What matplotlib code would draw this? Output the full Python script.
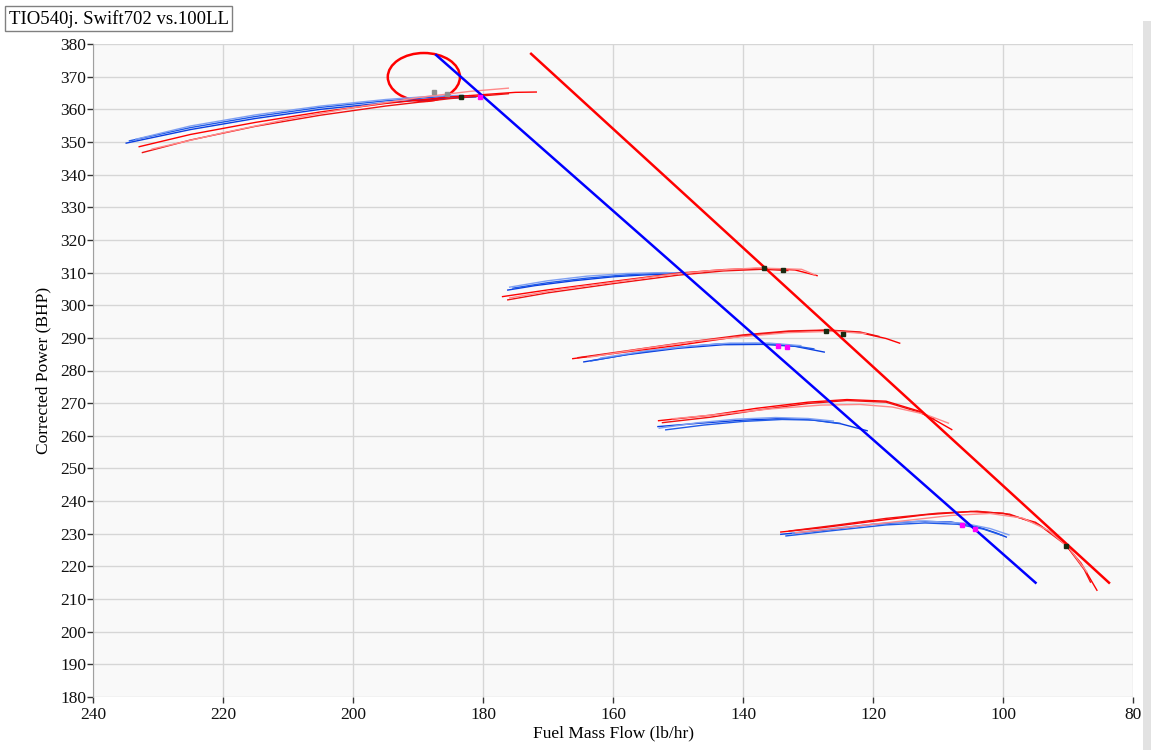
import matplotlib
matplotlib.use("Agg")
import matplotlib.pyplot as plt
from matplotlib.patches import Ellipse, Rectangle

plt.rcParams['font.family'] = ['Liberation Serif', 'DejaVu Serif']

title = "TIO540j. Swift702 vs.100LL"
x_label = "Fuel Mass Flow (lb/hr)"
y_label = "Corrected Power (BHP)"
x_ticks = [240, 220, 200, 180, 160, 140, 120, 100, 80]
y_ticks = list(range(180, 381, 10))

# ---- 100LL (red) curves: (fuel flow, power) ----
red_curves = [
    # cluster 1
    [(233, 348.5), (225, 352.3), (215, 356.0), (205, 359.2), (195, 361.8), (185, 363.8), (175, 365.2), (171.7, 365.3)],
    [(232.5, 346.7), (225, 350.6), (215, 354.8), (205, 358.2), (195, 361.0), (185, 363.3), (176, 364.8)],
    [(231, 347.8), (220, 352.8), (210, 357.0), (200, 360.5), (190, 363.6), (182, 365.5), (176, 366.5)],
    # cluster 2
    [(177.1, 302.6), (170, 304.7), (160, 307.3), (150, 309.8), (143, 310.9), (137, 311.3), (132, 310.8), (128.5, 309.0)],
    [(176.3, 301.6), (170, 303.8), (160, 306.6), (150, 309.2), (143, 310.5), (137, 311.0), (133, 310.6)],
    [(176, 302.2), (168, 304.9), (160, 307.0), (152, 309.2), (145, 310.6), (138, 311.4), (131, 311.0), (128.8, 309.2)],
    # cluster 3
    [(166.3, 283.6), (160, 285.2), (150, 287.7), (140, 290.6), (133, 291.9), (127, 292.3), (122, 291.6), (118, 289.8), (115.8, 288.3)],
    [(165.5, 283.9), (158, 286.0), (150, 288.3), (140, 290.9), (133, 292.1), (127, 292.4), (122, 291.8), (119, 290.4)],
    [(164, 284.0), (155, 286.8), (147, 289.0), (140, 290.4), (133, 291.6), (126, 292.0), (121, 291.3)],
    # cluster 4
    [(153.1, 264.6), (145, 266.3), (138, 268.4), (130, 270.3), (124, 271.1), (118, 270.6), (113, 267.6), (110, 264.3), (107.8, 261.8)],
    [(152.5, 264.0), (145, 265.7), (138, 267.8), (130, 269.9), (124, 270.8), (118, 270.3), (113, 267.3), (110.5, 265.0)],
    [(151, 265.2), (144, 266.5), (136, 268.2), (128, 269.4), (122, 269.6), (117, 268.8), (112, 266.6), (108.3, 263.8)],
    # cluster 5
    [(134.3, 230.5), (128, 231.8), (120, 233.8), (112, 235.8), (105, 236.8), (100, 236.3), (95, 233.5), (91, 228.0), (88, 221.0), (85.5, 212.5)],
    [(133, 230.8), (125, 232.8), (118, 234.7), (110, 236.3), (104, 236.9), (99, 236.0), (94.5, 232.8), (90.3, 226.5), (87.5, 219.0), (86.5, 215.0)],
    [(132, 230.3), (124, 232.0), (116, 233.8), (108, 235.6), (102, 236.2), (97, 234.8), (93, 231.0), (90, 226.0), (87, 218.0)],
]

# ---- Swift702 (blue) curves ----
blue_curves = [
    # cluster 1
    [(235, 349.6), (225, 353.8), (215, 357.2), (205, 360.0), (195, 362.0), (187, 363.3), (181, 363.8)],
    [(234.5, 350.3), (225, 354.4), (215, 357.8), (205, 360.6), (195, 362.6), (187, 363.8), (182, 364.2)],
    [(233.5, 350.8), (225, 354.9), (215, 358.3), (205, 361.0), (195, 363.0), (188, 364.0), (183, 364.3)],
    # cluster 2
    [(176.3, 304.6), (172, 306.0), (166, 307.5), (160, 308.7), (155, 309.3), (150, 309.6)],
    [(175.5, 305.2), (170, 306.9), (164, 308.3), (158, 309.3), (152, 309.9), (148.5, 310.0)],
    [(176, 305.5), (170, 307.5), (164, 308.9), (158, 309.7), (152, 310.0), (149, 309.8)],
    # cluster 3
    [(164.6, 282.6), (158, 284.8), (150, 286.8), (143, 287.9), (137, 288.0), (132, 287.4), (127.4, 285.6)],
    [(163.5, 282.9), (157, 285.2), (150, 287.1), (144, 288.1), (138, 288.3), (133, 287.8), (129, 286.6)],
    [(162, 283.8), (155, 286.0), (148, 287.5), (142, 288.4), (136, 288.4), (131, 287.6)],
    # cluster 4
    [(153.2, 262.8), (147, 263.8), (140, 264.8), (134, 265.3), (130, 265.0), (125, 263.7), (120.8, 261.5)],
    [(152, 261.8), (146, 263.3), (140, 264.4), (134, 265.0), (129, 264.8), (125, 263.8)],
    [(153, 262.3), (147, 264.0), (141, 265.1), (135, 265.6), (130, 265.3), (126, 264.5)],
    # cluster 5
    [(134.3, 229.8), (128, 231.0), (120, 232.9), (113, 233.8), (108, 233.6), (104, 232.2), (101, 230.2), (99.4, 228.9)],
    [(133.5, 229.3), (126, 231.0), (118, 232.7), (112, 233.3), (107, 232.9), (103, 231.4), (100, 229.4)],
    [(132.5, 230.2), (125, 231.9), (118, 233.3), (112, 233.9), (106, 233.2), (102, 231.6), (99, 229.6)],
]

red_shades = ['#ff0000', '#f01010', '#ff8a8a']
blue_shades = ['#0a3ee0', '#1f5ae8', '#7fa0f2']

# straight guide lines
blue_line_x = [187.2, 95.0]
blue_line_y = [376.6, 215.0]
red_line_x = [172.6, 83.7]
red_line_y = [377.0, 215.0]

# markers
magenta_x = [180.5, 134.6, 133.2, 106.3, 104.3]
magenta_y = [363.7, 287.4, 287.1, 232.8, 231.6]
dark_x = [183.4, 136.8, 133.8, 127.2, 124.6, 90.3]
dark_y = [363.7, 311.3, 310.7, 292.0, 291.3, 226.3]
gray_x = [187.5, 185.5]
gray_y = [365.3, 364.7]

# circle highlight
circle_center = (189.1, 369.9)
circle_w, circle_h = 11.1, 14.7

fig = plt.figure(figsize=(11.51, 7.5), dpi=100)
fig.patch.set_facecolor('white')
ax = fig.add_axes([0.0808, 0.0707, 0.9036, 0.8706])
ax.set_facecolor('#f9f9f9')

ax.set_xlim(240, 80)
ax.set_ylim(180, 380)
ax.set_xticks(x_ticks)
ax.set_yticks(y_ticks)
ax.grid(True, color='#d6d6d6', lw=1)
ax.set_axisbelow(True)

for i, c in enumerate(blue_curves):
    xs = [p[0] for p in c]
    ys = [p[1] for p in c]
    ax.plot(xs, ys, color=blue_shades[i % 3], lw=1.0, solid_capstyle='butt')
for i, c in enumerate(red_curves):
    xs = [p[0] for p in c]
    ys = [p[1] for p in c]
    ax.plot(xs, ys, color=red_shades[i % 3], lw=1.0, solid_capstyle='butt')

ax.plot(blue_line_x, blue_line_y, color='#0000ff', lw=1.8)
ax.plot(red_line_x, red_line_y, color='#ff0000', lw=1.8)

ax.plot(gray_x, gray_y, 's', color='#909090', ms=3.5, ls='none')
ax.plot(dark_x, dark_y, 's', color='#1a2a10', ms=3.5, ls='none')
ax.plot(magenta_x, magenta_y, 's', color='#ff00ff', ms=3.5, ls='none')

ax.add_patch(Ellipse(circle_center, circle_w, circle_h, fill=False,
                     edgecolor='#ff0000', lw=1.8))

for s in ['top', 'right', 'bottom']:
    ax.spines[s].set_visible(False)
ax.spines['left'].set_color('#a0a0a0')
ax.tick_params(axis='both', direction='out', length=4, width=1, color='#333333',
               labelsize=12.5, labelcolor='#111111')
ax.tick_params(axis='x', pad=3)
ax.tick_params(axis='y', pad=1)

ax.set_xlabel(x_label, fontsize=12.5, labelpad=2)
ax.set_ylabel(y_label, fontsize=12.5, labelpad=6)

# title box
fig.text(0.0075, 0.975, title, fontsize=13.5, ha='left', va='center',
         bbox=dict(boxstyle='square,pad=0.2', facecolor='white', edgecolor='#808080', lw=1))

# scroll strip at right
fig.patches.append(Rectangle((0.9930, 0.0), 0.0070, 0.972, transform=fig.transFigure,
                             facecolor='#e2e2e2', edgecolor='none'))

fig.savefig('out.png', dpi=100)
